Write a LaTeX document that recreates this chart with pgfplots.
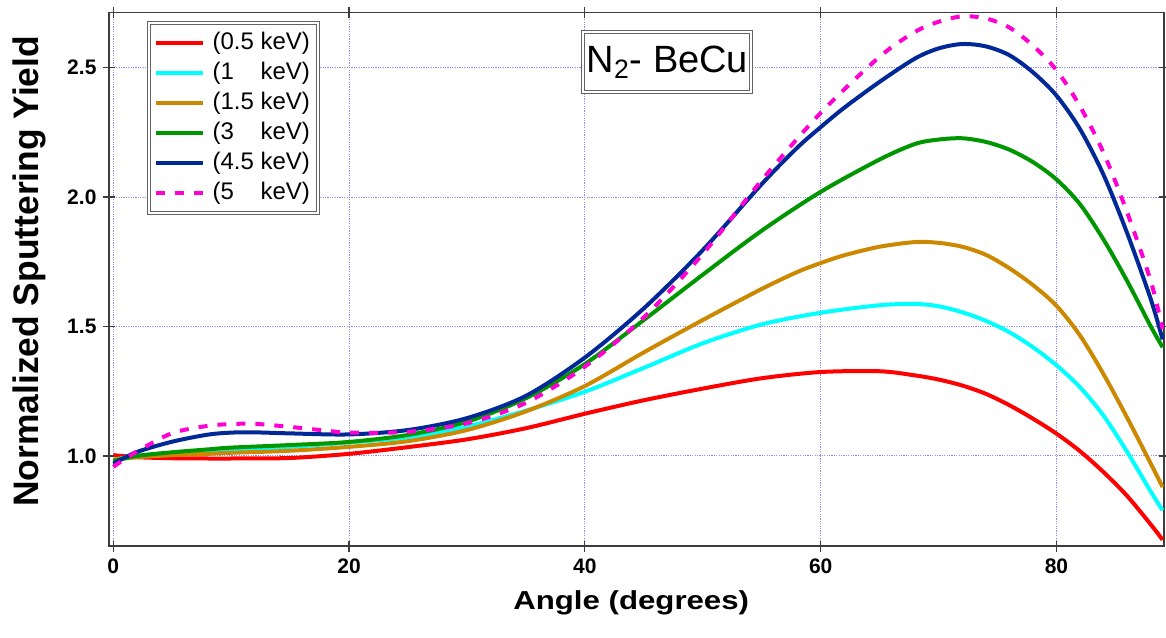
\documentclass[border=0pt]{standalone}
\usepackage{fontspec}
\setmainfont{Liberation Sans}
\usepackage{pgfplots}
\pgfplotsset{compat=1.18}
\definecolor{cRed}{RGB}{255,0,0}
\definecolor{cCyan}{RGB}{0,255,255}
\definecolor{cOrange}{RGB}{204,136,0}
\definecolor{cGreen}{RGB}{0,150,0}
\definecolor{cBlue}{RGB}{0,40,150}
\definecolor{cMag}{RGB}{255,0,210}
\definecolor{cGrid}{RGB}{140,140,255}
\definecolor{cFrame}{RGB}{60,60,60}
\begin{document}
\begin{tikzpicture}[x=1pt,y=1pt]
\path[use as bounding box] (0,0) rectangle (583,318.5);
\begin{axis}[
  at={(54.5pt,45.5pt)}, anchor=south west,
  scale only axis, width=527.5pt, height=266.65pt,
  xmin=-0.365, xmax=89.12, ymin=0.652, ymax=2.712,
  xtick={0,20,40,60,80}, ytick={1.0,1.5,2.0,2.5},
  tick align=center, major tick length=5.5pt,
  tick style={draw=cFrame, line width=0.6pt},
  axis line style={draw=cFrame, line width=0.6pt},
  grid=major,
  major grid style={draw=cGrid, line width=0.5pt, dash pattern=on 0.6pt off 0.6pt},
  /pgf/number format/assume math mode=true,
  ticklabel style={font=\bfseries\fontsize{10.5}{12}\selectfont},
  yticklabel style={/pgf/number format/.cd, fixed, fixed zerofill, precision=1},
  xlabel={\scalebox{1.2}[1]{Angle (degrees)}},
  ylabel={Normalized Sputtering Yield},
  xlabel style={at={(axis description cs:0.495,-0.12)}, anchor=base, font=\bfseries\fontsize{13}{15}\selectfont},
  ylabel style={at={(axis description cs:-0.0664,0.515)}, anchor=base, rotate=0, font=\bfseries\fontsize{17.7}{20}\selectfont},
  legend cell align=left,
  legend style={at={(rel axis cs:0.037,0.981)}, anchor=north west,
    draw=cFrame!80, double=white, double distance=1pt, line width=0.5pt, fill=white,
    inner xsep=2.5pt, inner ysep=2.5pt, row sep=0pt,
    font=\fontsize{12}{14}\selectfont,
    nodes={text height=9pt, text depth=3pt, inner ysep=1.5pt, inner xsep=1.5pt},
    /tikz/every odd column/.style={column sep=2.5pt}},
  legend image code/.code={\draw[#1] (0pt,0pt) -- (23.5pt,0pt);},
  every axis plot/.append style={line width=2pt, smooth},
]
\addplot[cRed] coordinates {
(0,1.003)(2,0.995)(5,0.991)(8,0.990)(10,0.990)(15,0.992)(20,1.008)(25,1.034)(30,1.064)(35,1.107)(40,1.163)(45,1.215)(50,1.260)(55,1.300)(60,1.324)(65,1.327)(68,1.311)(70,1.295)(72,1.272)(74,1.240)(76,1.196)(78,1.144)(80,1.086)(82,1.018)(84,0.937)(86,0.845)(88,0.735)(89,0.676)};
\addlegendentry{(0.5 keV)}
\addplot[cCyan] coordinates {
(0,0.985)(2,1.0)(5,1.012)(8,1.02)(10,1.025)(15,1.035)(20,1.052)(25,1.072)(30,1.113)(35,1.175)(40,1.248)(45,1.34)(50,1.435)(55,1.508)(60,1.553)(65,1.582)(68,1.587)(70,1.578)(72,1.555)(74,1.522)(76,1.478)(78,1.42)(80,1.35)(82,1.265)(84,1.155)(86,1.015)(88,0.862)(89,0.79)};
\addlegendentry{(1\phantom{.5} keV)}
\addplot[cOrange] coordinates {
(0,0.985)(2,0.995)(5,1.003)(8,1.008)(10,1.012)(15,1.02)(20,1.035)(25,1.057)(30,1.10)(35,1.172)(40,1.27)(45,1.40)(50,1.525)(55,1.645)(58,1.71)(60,1.745)(62,1.775)(65,1.808)(68,1.826)(70,1.823)(72,1.808)(74,1.777)(76,1.725)(78,1.66)(80,1.58)(82,1.465)(84,1.315)(86,1.147)(88,0.97)(89,0.88)};
\addlegendentry{(1.5 keV)}
\addplot[cGreen] coordinates {
(0,0.98)(2,1.0)(5,1.014)(8,1.025)(10,1.032)(15,1.042)(20,1.054)(25,1.081)(30,1.132)(35,1.223)(40,1.355)(45,1.525)(50,1.70)(55,1.87)(60,2.02)(65,2.145)(68,2.205)(70,2.222)(72,2.227)(74,2.213)(76,2.183)(78,2.135)(80,2.068)(82,1.972)(84,1.835)(86,1.675)(88,1.50)(89,1.42)};
\addlegendentry{(3\phantom{.5} keV)}
\addplot[cBlue] coordinates {
(0,0.97)(2,1.015)(5,1.055)(8,1.082)(10,1.09)(12,1.091)(15,1.087)(20,1.083)(25,1.10)(30,1.146)(35,1.232)(40,1.38)(45,1.57)(50,1.795)(55,2.05)(58,2.19)(60,2.27)(62,2.345)(65,2.445)(68,2.535)(70,2.574)(72,2.591)(74,2.582)(76,2.548)(78,2.482)(80,2.392)(82,2.262)(84,2.085)(86,1.86)(88,1.605)(89,1.45)};
\addlegendentry{(4.5 keV)}
\addplot[cMag, dash pattern=on 4.5pt off 5pt] coordinates {
(0,0.958)(2,1.017)(5,1.088)(8,1.116)(10,1.123)(12,1.124)(15,1.112)(18,1.098)(20,1.09)(25,1.093)(30,1.126)(35,1.205)(40,1.345)(45,1.535)(50,1.78)(55,2.065)(60,2.325)(65,2.542)(68,2.638)(70,2.677)(72,2.698)(74,2.69)(76,2.655)(78,2.585)(80,2.49)(82,2.35)(84,2.17)(86,1.94)(88,1.675)(89,1.49)};
\addlegendentry{(5\phantom{.5} keV)}
\node[draw=cFrame!80, double=white, double distance=1pt, line width=0.5pt, fill=white,
  font=\fontsize{19}{22}\selectfont, minimum width=84pt, minimum height=30pt, inner sep=1pt]
  at (axis cs:47,2.521) {N\textsubscript{2}- BeCu};
\end{axis}
\end{tikzpicture}
\end{document}
